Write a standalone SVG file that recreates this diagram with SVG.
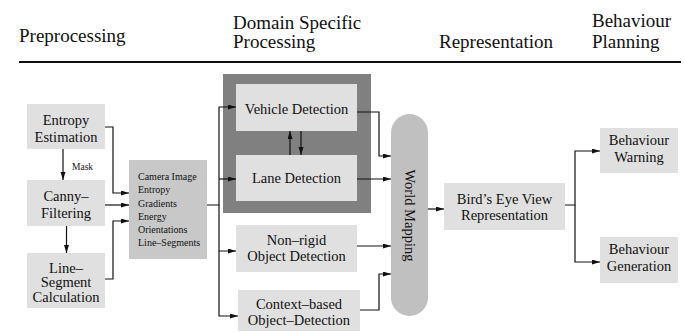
<svg xmlns="http://www.w3.org/2000/svg" width="684" height="332" viewBox="0 0 684 332">
<style>
text{font-family:"Liberation Serif","Times New Roman",serif;fill:#111}
.h{font-size:19px}
.n{font-size:14.5px;text-anchor:middle}
.s{font-size:10px}
.m{font-size:9.5px}
.lb{fill:#e0e0e0}
.c{fill:none;stroke:#111;stroke-width:1.2}
</style>
<defs>
<marker id="ah" markerUnits="userSpaceOnUse" markerWidth="9" markerHeight="6" refX="8" refY="2.5" orient="auto">
<path d="M0,0 L8,2.5 L0,5 z" fill="#111"/>
</marker>
</defs>
<g id="header">
<text class="h" x="19" y="42">Preprocessing</text>
<text class="h" x="233" y="29">Domain Specific</text>
<text class="h" x="233" y="48">Processing</text>
<text class="h" x="439" y="48">Representation</text>
<text class="h" x="592" y="27">Behaviour</text>
<text class="h" x="592" y="48">Planning</text>
<line x1="19" y1="62" x2="681" y2="62" stroke="#111" stroke-width="2.2"/>
</g>
<g id="domain-group"><rect x="223" y="74" width="148" height="139" fill="#808080"/></g>
<g id="entropy"><rect class="lb" x="27" y="104" width="78" height="45"/>
<text class="n" x="66" y="125">Entropy</text><text class="n" x="66" y="142">Estimation</text></g>
<g id="canny"><rect class="lb" x="27" y="180" width="78" height="46"/>
<text class="n" x="66" y="201">Canny–</text><text class="n" x="66" y="217.5">Filtering</text></g>
<g id="lineseg"><rect class="lb" x="27" y="253" width="78" height="55"/>
<text class="n" x="66" y="272.5">Line–</text><text class="n" x="66" y="287">Segment</text><text class="n" x="66" y="301.5">Calculation</text></g>
<g id="features"><rect x="129" y="160" width="78" height="99" fill="#c8c8c8"/>
<text class="s" x="138" y="180">Camera Image</text>
<text class="s" x="138" y="193.3">Entropy</text>
<text class="s" x="138" y="206.5">Gradients</text>
<text class="s" x="138" y="219.5">Energy</text>
<text class="s" x="138" y="232.7">Orientations</text>
<text class="s" x="138" y="245.8">Line–Segments</text></g>
<g id="vehicle"><rect class="lb" x="236" y="84" width="121" height="47"/>
<text class="n" x="296.5" y="113.5">Vehicle Detection</text></g>
<g id="lane"><rect class="lb" x="236" y="155" width="121" height="46"/>
<text class="n" x="296.5" y="183">Lane Detection</text></g>
<g id="nonrigid"><rect class="lb" x="236" y="225" width="121" height="47"/>
<text class="n" x="296.5" y="245">Non–rigid</text><text class="n" x="296.5" y="261">Object Detection</text></g>
<g id="context"><rect class="lb" x="238" y="290" width="122" height="41"/>
<text class="n" x="299" y="309">Context–based</text><text class="n" x="299" y="325">Object–Detection</text></g>
<g id="world"><rect x="391" y="114" width="37" height="202" rx="18.5" ry="18.5" fill="#c0c0c0"/>
<text class="n" transform="translate(404.5,215.5) rotate(90)">World Mapping</text></g>
<g id="birdseye"><rect class="lb" x="444" y="183" width="121" height="47"/>
<text class="n" x="504.5" y="203.5">Bird’s Eye View</text><text class="n" x="504.5" y="220">Representation</text></g>
<g id="warning"><rect class="lb" x="600" y="128" width="78" height="45"/>
<text class="n" x="639" y="145">Behaviour</text><text class="n" x="639" y="162">Warning</text></g>
<g id="generation"><rect class="lb" x="600" y="237" width="78" height="46"/>
<text class="n" x="639" y="254">Behaviour</text><text class="n" x="639" y="271">Generation</text></g>
<g id="connectors">
<path class="c" d="M105,127 H113 V193 H129" marker-end="url(#ah)"/>
<path class="c" d="M105,205 H129" marker-end="url(#ah)"/>
<path class="c" d="M105,279 H113 V221 H129" marker-end="url(#ah)"/>
<path class="c" d="M63,149 V180" marker-end="url(#ah)"/>
<text class="m" x="72" y="170">Mask</text>
<path class="c" d="M66.5,226 V253" marker-end="url(#ah)"/>
<path class="c" d="M207,205 H219 V107 H236" marker-end="url(#ah)"/>
<path class="c" d="M219,179 H236" marker-end="url(#ah)"/>
<path class="c" d="M219,205 V251 H236" marker-end="url(#ah)"/>
<path class="c" d="M219,251 V316 H238" marker-end="url(#ah)"/>
<path class="c" d="M290,155 V131" marker-end="url(#ah)"/>
<path class="c" d="M301,131 V155" marker-end="url(#ah)"/>
<path class="c" d="M357,112 H379 V156 H391" marker-end="url(#ah)"/>
<path class="c" d="M357,179 H391" marker-end="url(#ah)"/>
<path class="c" d="M357,246 H391" marker-end="url(#ah)"/>
<path class="c" d="M360,310 H379 V274 H391" marker-end="url(#ah)"/>
<path class="c" d="M428,209 H444" marker-end="url(#ah)"/>
<path class="c" d="M565,205 H575 V151 H600" marker-end="url(#ah)"/>
<path class="c" d="M575,205 V262 H600" marker-end="url(#ah)"/>
</g>
</svg>
